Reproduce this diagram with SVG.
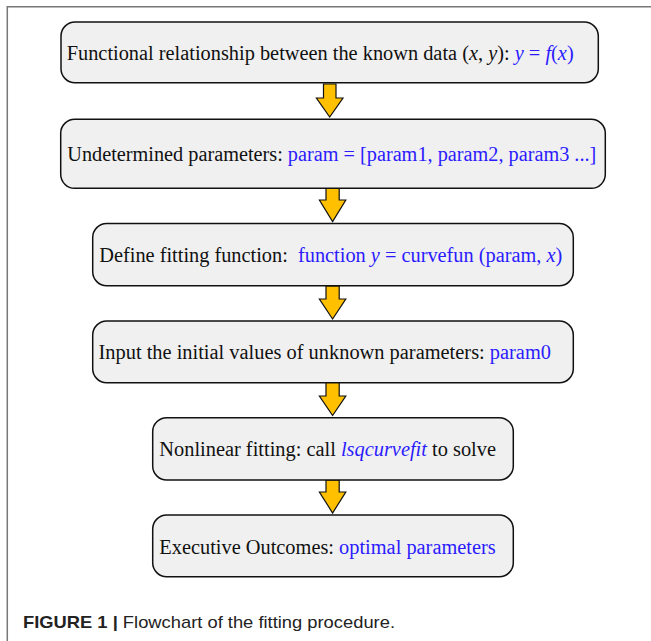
<svg xmlns="http://www.w3.org/2000/svg" width="651" height="641" viewBox="0 0 651 641">
<style>
.box{fill:#f0f0f0;stroke:#111;stroke-width:1.5}
.t{font-family:"Liberation Serif","Times New Roman",serif;font-size:20px;fill:#111}
.b{fill:#2b1bff}
.i{font-style:italic}
.arr{fill:#ffc000;stroke:#111;stroke-width:1.2;stroke-linejoin:miter}
.frame{fill:none;stroke:#777;stroke-width:1.5}
.cap{font-family:"Liberation Sans",Arial,sans-serif;font-size:17px;fill:#222}
</style>
<path class="frame" d="M651,6.7 H7.3 V641"/>
<g id="connectors">
<polygon class="arr" points="323.5,84 336,84 336,98 343,98 329.7,117 316.4,98 323.5,98"/>
<polygon class="arr" points="326,188.5 339.2,188.5 339.2,200 345.8,200 332.6,221.5 319.4,200 326,200"/>
<polygon class="arr" points="326,286 339.2,286 339.2,299 345.8,299 332.6,319 319.4,299 326,299"/>
<polygon class="arr" points="326,382.5 339.2,382.5 339.2,396 345.8,396 332.6,415.5 319.4,396 326,396"/>
<polygon class="arr" points="326,480 339.2,480 339.2,492 345.8,492 332.6,513 319.4,492 326,492"/>
</g>
<g id="node1">
<rect class="box" x="61" y="22" width="537.3" height="60.7" rx="14"/>
<text class="t" x="66.7" y="60" textLength="507" lengthAdjust="spacingAndGlyphs">Functional relationship between the known data (<tspan class="i">x</tspan>, <tspan class="i">y</tspan>): <tspan class="b"><tspan class="i">y</tspan> = <tspan class="i">f</tspan>(<tspan class="i">x</tspan>)</tspan></text>
</g>
<g id="node2">
<rect class="box" x="60.7" y="119.3" width="544.6" height="69" rx="14"/>
<text class="t" x="67.3" y="160.7" textLength="529" lengthAdjust="spacingAndGlyphs">Undetermined parameters: <tspan class="b">param = [param1, param2, param3 ...]</tspan></text>
</g>
<g id="node3">
<rect class="box" x="92.7" y="223.5" width="480.6" height="62.2" rx="14"/>
<text class="t" x="99.3" y="261.7" textLength="463" lengthAdjust="spacingAndGlyphs" xml:space="preserve">Define fitting function:  <tspan class="b">function <tspan class="i">y</tspan> = curvefun (param, <tspan class="i">x</tspan>)</tspan></text>
</g>
<g id="node4">
<rect class="box" x="92.7" y="321" width="480.6" height="61.7" rx="14"/>
<text class="t" x="98.5" y="359.3" textLength="452.5" lengthAdjust="spacingAndGlyphs">Input the initial values of unknown parameters: <tspan class="b">param0</tspan></text>
</g>
<g id="node5">
<rect class="box" x="152.7" y="417.7" width="360.6" height="62.3" rx="14"/>
<text class="t" x="159.3" y="455.7" textLength="336.7" lengthAdjust="spacingAndGlyphs">Nonlinear fitting: call <tspan class="b i">lsqcurvefit</tspan> to solve</text>
</g>
<g id="node6">
<rect class="box" x="152.7" y="515" width="360.6" height="61.7" rx="14"/>
<text class="t" x="159.3" y="554" textLength="336.4" lengthAdjust="spacingAndGlyphs">Executive Outcomes: <tspan class="b">optimal parameters</tspan></text>
</g>
<text class="cap" x="23" y="628" textLength="372" lengthAdjust="spacingAndGlyphs"><tspan font-weight="bold">FIGURE 1 |</tspan> Flowchart of the fitting procedure.</text>
</svg>
